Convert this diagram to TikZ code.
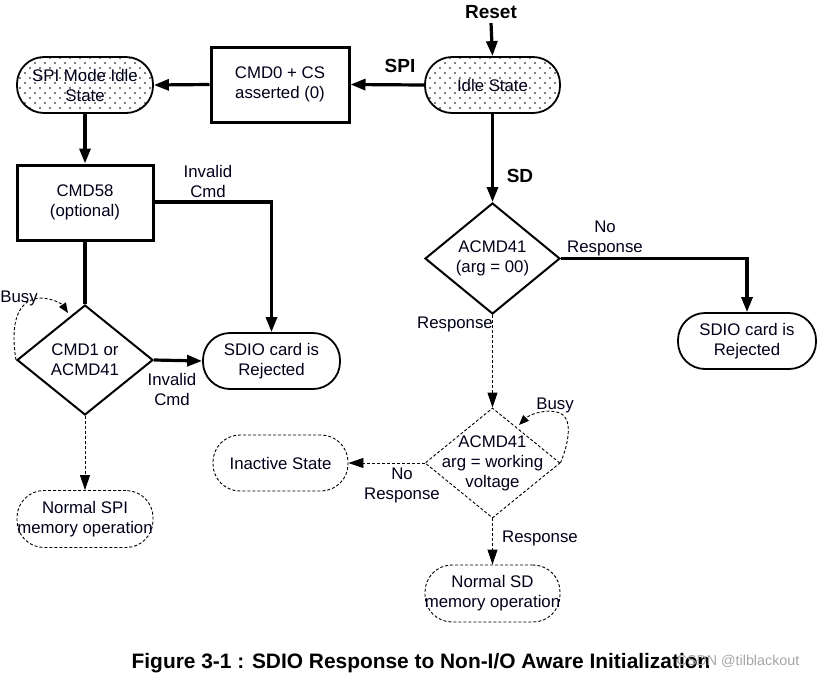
\documentclass[tikz,border=0pt]{standalone}
\usepackage{fontspec}
\setmainfont{Liberation Sans}
\usetikzlibrary{arrows.meta,shapes.geometric,patterns}
\pgfdeclarepatternformonly{sparsedots}{\pgfqpoint{-1pt}{-1pt}}{\pgfqpoint{11pt}{11pt}}{\pgfqpoint{10pt}{10pt}}{%
  \pgfpathcircle{\pgfqpoint{0pt}{0pt}}{0.95pt}\pgfusepath{fill}%
  \pgfpathcircle{\pgfqpoint{5pt}{5pt}}{0.95pt}\pgfusepath{fill}}
\begin{document}
\begin{tikzpicture}[x=1pt,y=-1pt,
  txt/.style={font=\fontsize{16.8}{20}\selectfont,align=center,text=black!90!blue,inner sep=0pt},
  lbl/.style={txt},
  bold/.style={font=\fontsize{19}{22}\selectfont\bfseries,inner sep=0pt},
  pill/.style={draw,line width=1.8pt,rounded corners=27pt,minimum width=136pt,minimum height=56pt,inner sep=0pt},
  dpill/.style={draw,densely dashed,line width=0.9pt,rounded corners=27pt,minimum width=136pt,minimum height=57pt,inner sep=0pt},
  dotted pill/.style={pill,pattern=sparsedots},
  box/.style={draw,line width=3pt,minimum width=136pt,minimum height=75pt,inner sep=0pt},
  diam/.style={draw,shape=diamond,line width=2pt,minimum width=136pt,minimum height=110pt,inner sep=0pt,aspect=1.236},
  ddiam/.style={diam,line width=0.9pt,densely dashed},
  thk/.style={line width=3.2pt},
  arr/.style={-{Triangle[length=15pt,width=11pt]}},
  darr/.style={densely dashed,line width=0.9pt,-{Triangle[length=15pt,width=10pt]}},
  sarr/.style={densely dashed,line width=0.9pt,-{Triangle[length=10pt,width=8pt]}},
]
\useasboundingbox (0,0) rectangle (821,678);

% nodes
\node[bold] (reset) at (491,12) {Reset};
\coordinate (resetend) at (491,23);
\node[dotted pill,minimum width=135pt] (idle) at (492.5,85) {};
\node[txt] (idlet) at (idle) {Idle State};
\node[box,minimum width=138pt] (cmd0) at (280,84.5) {};
\node[txt] (cmd0t) at (cmd0) {CMD0 + CS\\asserted (0)};
\node[dotted pill] (spiidle) at (85,85) {};
\node[txt] (spiidlet) at (spiidle) {SPI Mode Idle\\State};
\node[box] (cmd58) at (85,202.5) {};
\node[txt] (cmd58t) at (cmd58) {CMD58\\(optional)};
\node[diam] (cmd1) at (85,360) {};
\node[txt] (cmd1t) at (cmd1) {CMD1 or\\ACMD41};
\node[pill,minimum width=137pt] (rejl) at (271.5,361) {};
\node[txt] (rejlt) at (rejl) {SDIO card is\\Rejected};
\node[dpill] (nspi) at (85,519) {};
\node[txt] (nspit) at (nspi) {Normal SPI\\memory operation};

\node[diam,minimum width=135pt,minimum height=111pt] (ac0) at (492.5,258.5) {};
\node[txt] (ac0t) at (ac0) {ACMD41\\(arg = 00)};
\node[pill,minimum width=138pt] (rejr) at (747,341) {};
\node[txt] (rejrt) at (rejr) {SDIO card is\\Rejected};
\node[ddiam,minimum width=135pt] (acw) at (492.5,463) {};
\node[txt] (acwt) at (acw) {ACMD41\\arg = working\\voltage};
\node[dpill,minimum width=135pt,minimum height=56pt] (inact) at (280.5,463) {};
\node[txt] (inactt) at (inact) {Inactive State};
\node[dpill,minimum width=135pt] (nsd) at (492.5,593.5) {};
\node[txt] (nsdt) at (nsd) {Normal SD\\memory operation};

% labels
\node[bold] (lspi) at (400,66) {SPI};
\node[bold] (lsd) at (520,176) {SD};
\node[lbl] (linv1) at (208,181) {Invalid\\Cmd};
\node[lbl] (linv2) at (172,389) {Invalid\\Cmd};
\node[lbl] (lbusy1) at (19,298) {Busy};
\node[lbl] (lnr1) at (605,238) {No\\Response};
\node[lbl] (lresp1) at (455,324) {Response};
\node[lbl] (lbusy2) at (555,405) {Busy};
\node[lbl] (lnr2) at (402,485) {No\\Response};
\node[lbl] (lresp2) at (540,538) {Response};

% connectors
\draw[thk,arr] (resetend) -- (idle.north);
\draw[thk,arr] (idle.west) -- (cmd0.east);
\draw[thk,arr] (cmd0.west) -- (spiidle.east);
\draw[thk,arr] (spiidle.south) -- (cmd58.north);
\draw[thk,arr] (cmd58.east |- 0,202) -| (rejl.north);
\draw[thk] (cmd58.south) -- (cmd1.north);
\draw[thk,arr] (cmd1.east) -- (rejl.west);
\draw[darr] (cmd1.south) -- (nspi.north);
\draw[sarr] (cmd1.west) .. controls (11,330) and (14,300) .. (40,298) .. controls (52,298) and (62,304) .. (68,313);

\draw[thk,arr] (idle.south) -- (ac0.north);
\draw[thk,arr] (ac0.east) -| (rejr.north);
\draw[darr] (ac0.south) -- (acw.north);
\draw[darr] (acw.west) -- (inact.east);
\draw[darr] (acw.south) -- (nsd.north);
\draw[sarr] (acw.east) .. controls (570,440) and (572,418) .. (560,413) .. controls (548,408) and (530,414) .. (519,425);

% caption
\node[font=\fontsize{20.9}{24}\selectfont\bfseries,inner sep=0pt] (cap) at (421,663) {Figure 3-1 : SDIO Response to Non-I/O Aware Initialization};
\node[font=\fontsize{14.3}{16}\selectfont,text=black!35,inner sep=0pt] (wm) at (738,661) {CSDN @tilblackout};
\end{tikzpicture}
\end{document}
